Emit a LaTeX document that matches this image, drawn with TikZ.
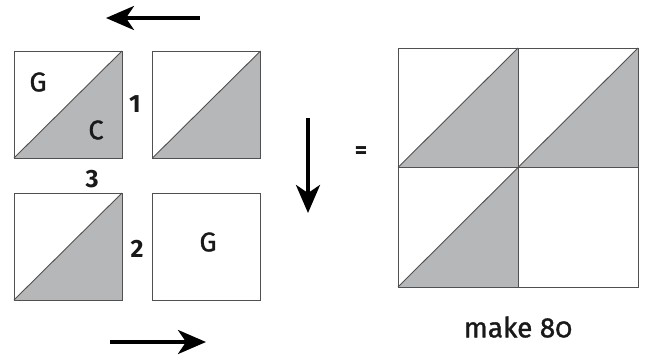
\documentclass[tikz,border=0pt]{standalone}
\usepackage{fontspec}
\setmainfont{Fira Sans}
\newfontfamily\labfont[FakeBold=1.2]{Fira Sans}
\usetikzlibrary{arrows.meta}
\definecolor{patch}{HTML}{B6B7B9}
\definecolor{edge}{HTML}{505050}
\tikzset{
  sq/.style={draw=edge, line width=0.9pt, fill=white, minimum width=108pt, minimum height=107pt, inner sep=0pt, outer sep=0pt},
  bigsq/.style={draw=edge, line width=0.9pt, minimum width=120pt, minimum height=119.5pt, inner sep=0pt, outer sep=0pt},
  lbl/.style={font=\labfont\fontsize{27}{27}\selectfont, text=black!90},
  num/.style={font=\fontsize{25}{25}\selectfont\bfseries, text=black!90},
  bigarrow/.style={line width=3.6pt, -{Stealth[length=28pt, width=24pt, inset=8pt]}},
}
\begin{document}
\begin{tikzpicture}[x=1pt, y=-1pt]
\useasboundingbox (0,0) rectangle (645,359);
% four small squares
\node[sq] (tl) at (68,104.5) {};
\node[sq] (tr) at (206.5,104.5) {};
\node[sq] (bl) at (68,246.5) {};
\node[sq] (br) at (206.5,247) {};
\fill[patch] (tl.south west) -- (tl.north east) -- (tl.south east) -- cycle;
\fill[patch] (tr.south west) -- (tr.north east) -- (tr.south east) -- cycle;
\fill[patch] (bl.south west) -- (bl.north east) -- (bl.south east) -- cycle;
\foreach \s in {tl,tr,bl}{
  \draw[draw=edge, line width=0.9pt] (\s.south west) -- (\s.north east);
  \draw[draw=edge, line width=0.9pt] (\s.south west) rectangle (\s.north east);
}
\draw[draw=edge, line width=0.9pt] (br.south west) rectangle (br.north east);
% labels
\node[lbl] (g1) at (38,82) {G};
\node[lbl] (c1) at (96,130) {C};
\node[lbl] (g2) at (208,242) {G};
\node[num] (n1) at (135,104) {1};
\node[num] (n3) at (92,179) {3};
\node[num] (n2) at (137,249) {2};
% arrows
\coordinate (a1s) at (200,18);
\coordinate (a1e) at (106,18);
\draw[bigarrow] (a1s) -- (a1e);
\coordinate (a2s) at (110,342);
\coordinate (a2e) at (206,342);
\draw[bigarrow] (a2s) -- (a2e);
\coordinate (a3s) at (308,118);
\coordinate (a3e) at (308,213);
\draw[bigarrow] (a3s) -- (a3e);
% equals
\node[num, font=\fontsize{24}{24}\selectfont\bfseries] (eq) at (361,153) {=};
% big block
\node[bigsq] (q1) at (458,107.75) {};
\node[bigsq] (q2) at (578,107.75) {};
\node[bigsq] (q3) at (458,227.25) {};
\node[bigsq] (q4) at (578,227.25) {};
\foreach \s in {q1,q2,q3}{
  \fill[patch] (\s.south west) -- (\s.north east) -- (\s.south east) -- cycle;
  \draw[draw=edge, line width=0.9pt] (\s.south west) -- (\s.north east);
}
\foreach \s in {q1,q2,q3,q4}{
  \draw[draw=edge, line width=0.9pt] (\s.south west) rectangle (\s.north east);
}
\node[lbl, font=\labfont\fontsize{28}{28}\selectfont\addfontfeatures{Numbers=OldStyle}] (mk) at (518,327) {make 80};
\end{tikzpicture}
\end{document}
